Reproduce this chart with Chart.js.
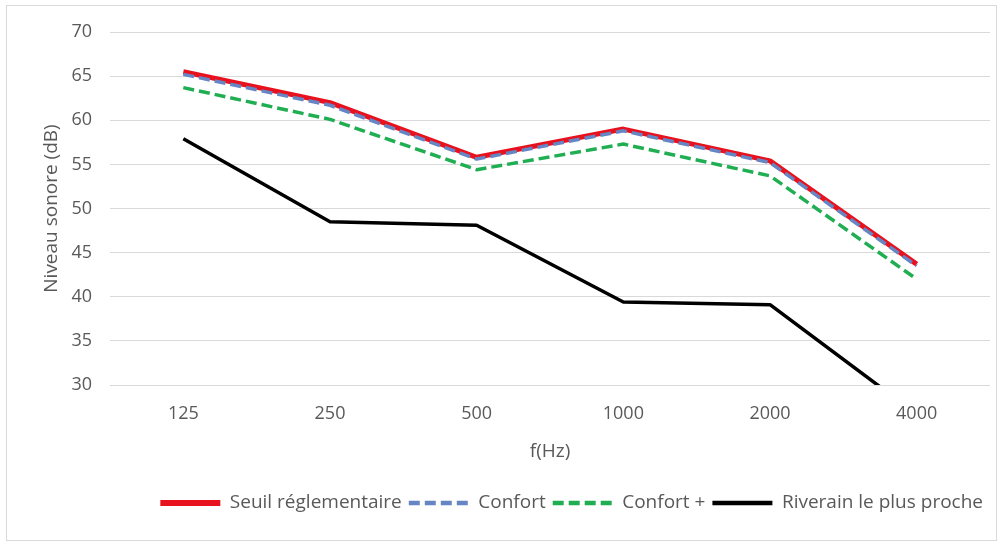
<!DOCTYPE html>
<html>
<head>
<meta charset="utf-8">
<script src="https://cdn.jsdelivr.net/npm/chart.js@4"></script>
<style>
  html, body { margin: 0; padding: 0; background: #ffffff; }
  #wrap { width: 1004px; height: 547px; position: relative; }
</style>
</head>
<body>
<div id="wrap"><canvas id="c" width="1004" height="547"></canvas></div>
<script>
// Octave-band frequencies (Hz)
const frequencies = ['125', '250', '500', '1000', '2000', '4000'];

// Sound levels per band, dB
const seuilReglementaire = [65.5, 62.0, 55.8, 59.0, 55.4, 43.7];
const confort = [65.2, 61.7, 55.6, 58.8, 55.2, 43.5];
const confortPlus = [63.7, 60.1, 54.4, 57.3, 53.7, 42.0];
const riverain = [57.9, 48.5, 48.1, 39.4, 39.1, 26.7];

const yTicks = [30, 35, 40, 45, 50, 55, 60, 65, 70];

const textColor = '#595959';
const fontFamily = '"Open Sans", sans-serif';

// outer frame around the whole chart
const framePlugin = {
  id: 'frame',
  beforeDraw(chart) {
    const ctx = chart.ctx;
    ctx.save();
    ctx.fillStyle = '#ffffff';
    ctx.fillRect(0, 0, chart.width, chart.height);
    ctx.strokeStyle = '#d9d9d9';
    ctx.lineWidth = 1;
    ctx.strokeRect(6.5, 5.5, 990, 535);
    ctx.restore();
  }
};

new Chart(document.getElementById('c'), {
  type: 'line',
  data: {
    labels: frequencies,
    datasets: [
      {
        label: 'Seuil réglementaire',
        data: seuilReglementaire,
        borderColor: '#e8121e',
        backgroundColor: '#e8121e',
        borderWidth: 5,
        order: 3
      },
      {
        label: 'Confort',
        data: confort,
        borderColor: '#6585c4',
        backgroundColor: '#6585c4',
        borderWidth: 3.5,
        borderDash: [11, 5],
        order: 2
      },
      {
        label: 'Confort +',
        data: confortPlus,
        borderColor: '#1fae52',
        backgroundColor: '#1fae52',
        borderWidth: 3.5,
        borderDash: [11, 5],
        order: 1
      },
      {
        label: 'Riverain le plus proche',
        data: riverain,
        borderColor: '#000000',
        backgroundColor: '#000000',
        borderWidth: 3.5,
        order: 0
      }
    ]
  },
  options: {
    responsive: false,
    animation: false,
    devicePixelRatio: 1,
    layout: { padding: { left: 20, right: 14, top: 32, bottom: 24.5 } },
    elements: {
      point: { radius: 0, hoverRadius: 0 },
      line: { tension: 0, borderJoinStyle: 'round', borderCapStyle: 'butt' }
    },
    plugins: {
      tooltip: { enabled: false },
      legend: {
        position: 'bottom',
        align: 'end',
        labels: {
          usePointStyle: true,
          pointStyle: 'line',
          pointStyleWidth: 60,
          boxHeight: 19,
          padding: 7,
          color: textColor,
          font: { family: fontFamily, size: 19 },
          generateLabels(chart) {
            return chart.data.datasets.map((ds, i) => ({
              text: ds.label,
              datasetIndex: i,
              fillStyle: ds.borderColor,
              strokeStyle: ds.borderColor,
              lineWidth: ds.borderWidth + 1,
              lineDash: ds.borderDash || [],
              lineCap: 'butt',
              pointStyle: 'line',
              hidden: false,
              fontColor: textColor
            }));
          }
        }
      }
    },
    scales: {
      x: {
        offset: true,
        grid: { display: false, drawTicks: false },
        border: { display: false },
        ticks: { color: textColor, font: { family: fontFamily, size: 18 }, padding: 18 },
        title: {
          display: true,
          text: 'f(Hz)',
          color: textColor,
          font: { family: fontFamily, size: 19 },
          padding: { top: 0, bottom: 24 }
        },
        afterFit(scale) { scale.height = 101.5; }
      },
      y: {
        min: 30,
        max: 70,
        afterBuildTicks(scale) { scale.ticks = yTicks.map(v => ({ value: v })); },
        grid: { color: '#d9d9d9', lineWidth: 1, drawTicks: false },
        border: { display: false },
        ticks: { color: textColor, font: { family: fontFamily, size: 18 }, padding: 18 },
        title: {
          display: true,
          text: 'Niveau sonore (dB)',
          color: textColor,
          font: { family: fontFamily, size: 19 },
          padding: { top: 20.5, bottom: 0 }
        },
        afterFit(scale) { scale.width = 90; }
      }
    }
  },
  plugins: [framePlugin]
});
</script>
</body>
</html>
